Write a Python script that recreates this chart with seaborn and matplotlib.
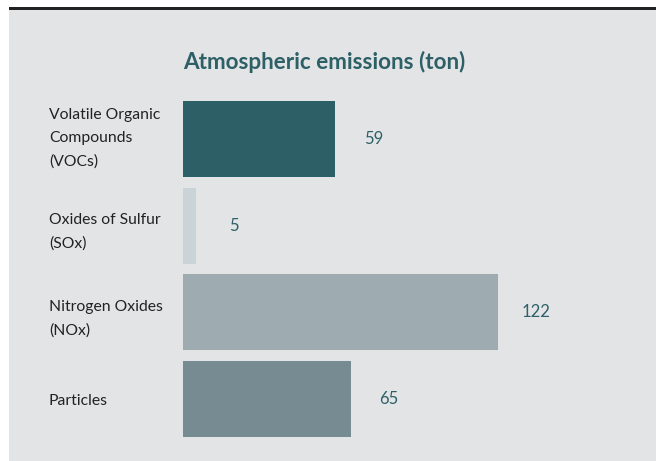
import matplotlib
matplotlib.use("Agg")
import matplotlib.pyplot as plt
import matplotlib.transforms as mtransforms
import seaborn as sns
import pandas as pd
from matplotlib.patches import Rectangle

categories = ["Volatile Organic\nCompounds\n(VOCs)", "Oxides of Sulfur\n(SOx)", "Nitrogen Oxides\n(NOx)", "Particles"]
values = [59, 5, 122, 65]
colors = ["#2d5f66", "#c9d3d8", "#9eabb0", "#778b93"]

df = pd.DataFrame({"category": categories, "value": values})

sns.set_style("white")
plt.rcParams["font.family"] = ["Lato", "DejaVu Sans"]

fig = plt.figure(figsize=(6.56, 4.61), dpi=100)
fig.patch.set_facecolor("white")

# grey panel and dark rule on top
fig.patches.append(Rectangle((9 / 656, 0), 1, (461 - 9) / 461, transform=fig.transFigure,
                             facecolor="#e3e4e6", edgecolor="none", zorder=-2))
fig.patches.append(Rectangle((9 / 656, (461 - 10) / 461), 1, 2.5 / 461, transform=fig.transFigure,
                             facecolor="#222222", edgecolor="none", zorder=-1))

ax = fig.add_axes([183 / 656, 18.65 / 461, 473 / 656, 346.7 / 461])
ax.set_facecolor("none")

sns.barplot(data=df, x="value", y="category", hue="category", palette=colors,
            orient="h", width=0.88, saturation=1, legend=False, linewidth=0, ax=ax)

ax.set_xlim(0, 183.2)
ax.set_ylim(3.5, -0.5)
sns.despine(ax=ax, left=True, bottom=True)
ax.set_xticks([])
ax.set_xlabel("")
ax.set_ylabel("")
ax.tick_params(axis="y", length=0, pad=96.5)
for lbl in ax.get_yticklabels():
    lbl.set_horizontalalignment("left")
    lbl.set_fontsize(11.3)
    lbl.set_color("#222222")
    lbl.set_linespacing(1.85)

# the three-line label sits a little above its bar centre
first = ax.get_yticklabels()[0]
first.set_transform(first.get_transform() + mtransforms.ScaledTranslation(0, 7 / 100, fig.dpi_scale_trans))

for i, v in enumerate(values):
    ax.annotate(str(v), (v, i), xytext=(27.5, 0), textcoords="offset points",
                ha="center", va="center", fontsize=12, color="#2d6068")

fig.text(183 / 656, 1 - 62 / 461, "Atmospheric emissions (ton)", ha="left", va="center",
         fontsize=16.2, fontweight="bold", color="#2d5f66")

fig.savefig("out.png", dpi=100, facecolor=fig.get_facecolor())
